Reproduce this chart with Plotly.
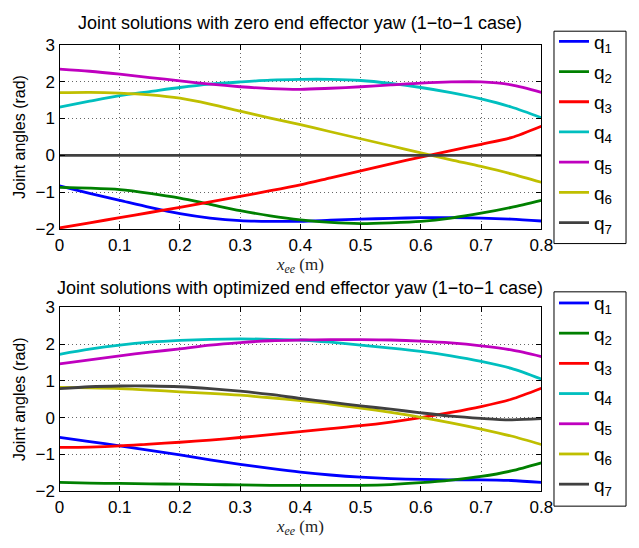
import plotly.graph_objects as go

# Sampled end-effector positions (m)
x_ee = [0.00, 0.05, 0.10, 0.15, 0.20, 0.25, 0.30, 0.35, 0.40,
        0.45, 0.50, 0.55, 0.60, 0.65, 0.70, 0.75, 0.80]

# Joint solutions, zero end effector yaw (rad)
q1_zero = [-0.83, -1.03, -1.22, -1.41, -1.58, -1.70, -1.77, -1.79, -1.79,
           -1.76, -1.73, -1.71, -1.69, -1.69, -1.70, -1.73, -1.78]
q2_zero = [-0.87, -0.89, -0.93, -1.03, -1.16, -1.33, -1.50, -1.64, -1.75,
           -1.82, -1.85, -1.83, -1.79, -1.70, -1.57, -1.41, -1.22]
q3_zero = [-1.97, -1.83, -1.69, -1.55, -1.41, -1.26, -1.11, -0.96, -0.80,
           -0.61, -0.42, -0.23, -0.05, 0.13, 0.30, 0.48, 0.79]
q4_zero = [1.31, 1.47, 1.62, 1.73, 1.84, 1.93, 1.99, 2.04, 2.06,
           2.06, 2.03, 1.95, 1.84, 1.70, 1.53, 1.31, 1.02]
q5_zero = [2.34, 2.28, 2.20, 2.11, 2.02, 1.93, 1.86, 1.81, 1.79,
           1.82, 1.86, 1.91, 1.96, 1.99, 1.99, 1.91, 1.71]
q6_zero = [1.70, 1.71, 1.69, 1.64, 1.55, 1.39, 1.20, 1.01, 0.83,
           0.64, 0.45, 0.26, 0.07, -0.12, -0.30, -0.50, -0.73]
q7_zero = [0.0] * len(x_ee)

# Joint solutions, optimized end effector yaw (rad)
q1_opt = [-0.54, -0.65, -0.77, -0.89, -1.01, -1.15, -1.27, -1.38, -1.48,
          -1.56, -1.62, -1.66, -1.68, -1.69, -1.69, -1.71, -1.76]
q2_opt = [-1.76, -1.78, -1.79, -1.80, -1.81, -1.82, -1.83, -1.84, -1.84,
          -1.84, -1.84, -1.82, -1.77, -1.70, -1.60, -1.45, -1.23]
q3_opt = [-0.81, -0.80, -0.77, -0.72, -0.67, -0.61, -0.54, -0.46, -0.38,
          -0.30, -0.22, -0.12, 0.00, 0.14, 0.30, 0.50, 0.80]
q4_opt = [1.72, 1.86, 1.97, 2.05, 2.10, 2.13, 2.14, 2.13, 2.11,
          2.05, 1.97, 1.89, 1.80, 1.68, 1.53, 1.34, 1.05]
q5_opt = [1.46, 1.57, 1.68, 1.78, 1.87, 1.97, 2.04, 2.09, 2.11,
          2.12, 2.12, 2.11, 2.08, 2.03, 1.95, 1.84, 1.66]
q6_opt = [0.82, 0.81, 0.79, 0.75, 0.70, 0.66, 0.61, 0.54, 0.46,
          0.37, 0.26, 0.14, 0.01, -0.14, -0.31, -0.50, -0.73]
q7_opt = [0.79, 0.84, 0.86, 0.86, 0.84, 0.79, 0.72, 0.63, 0.52,
          0.42, 0.32, 0.23, 0.13, 0.04, -0.02, -0.06, -0.03]

joint_names = ["q<sub>1</sub>", "q<sub>2</sub>", "q<sub>3</sub>", "q<sub>4</sub>",
               "q<sub>5</sub>", "q<sub>6</sub>", "q<sub>7</sub>"]
colors = ["#0000ff", "#008000", "#ff0000", "#00bfbf", "#bf00bf", "#bfbf00", "#404040"]

zero_set = [q1_zero, q2_zero, q3_zero, q4_zero, q5_zero, q6_zero, q7_zero]
opt_set = [q1_opt, q2_opt, q3_opt, q4_opt, q5_opt, q6_opt, q7_opt]

x_ticks = [0, 0.1, 0.2, 0.3, 0.4, 0.5, 0.6, 0.7, 0.8]
y_ticks = [-2, -1, 0, 1, 2, 3]
tick_text_y = ["\u22122", "\u22121", "0", "1", "2", "3"]

W, H = 639, 548
FONT = "Liberation Sans, Arial, sans-serif"

fig = go.Figure()

for k, (ys, name, col) in enumerate(zip(zero_set, joint_names, colors)):
    fig.add_trace(go.Scatter(
        x=x_ee, y=ys, mode="lines", name=name,
        line=dict(color=col, width=2.8, shape="spline", smoothing=0.8),
        xaxis="x", yaxis="y", legend="legend", legendgroup="a%d" % k,
    ))
for k, (ys, name, col) in enumerate(zip(opt_set, joint_names, colors)):
    fig.add_trace(go.Scatter(
        x=x_ee, y=ys, mode="lines", name=name,
        line=dict(color=col, width=2.8, shape="spline", smoothing=0.8),
        xaxis="x2", yaxis="y2", legend="legend2", legendgroup="b%d" % k,
    ))

# Plot areas in pixel terms
x0, x1 = 56, 551
top_y0, top_y1 = 37, 228
bot_y0, bot_y1 = 309, 499.5

# Legend frames in pixel terms (left, top, right, bottom)
frame_top = (564, 23, 638, 243)
frame_bot = (564, 293, 638, 515)


def px_dom(a, b):
    return [a / W, b / W]


def py_dom(top, bottom):
    return [1 - bottom / H, 1 - top / H]


def frame_shape(box):
    left, top, right, bottom = box
    return dict(type="rect", xref="paper", yref="paper",
                x0=left / W, x1=right / W, y0=1 - bottom / H, y1=1 - top / H,
                line=dict(color="black", width=1), fillcolor="rgba(0,0,0,0)",
                layer="above")


axis_common = dict(
    showline=True, linecolor="black", linewidth=1.2, mirror="allticks",
    ticks="inside", ticklen=5, tickcolor="black",
    showgrid=True, gridcolor="#666666", griddash="1px,3px", gridwidth=1,
    zeroline=False, tickfont=dict(family=FONT, size=17, color="black"),
)

xtitle = dict(
    text="<i>x</i><sub><i>ee</i></sub> (m)",
    font=dict(family="Liberation Serif, DejaVu Serif, serif", size=17, color="#222"),
    standoff=3,
)
ytitle = dict(text="Joint angles (rad)", font=dict(family=FONT, size=16, color="black"),
              standoff=6)

legend_common = dict(
    xanchor="left", yanchor="top",
    borderwidth=0, bgcolor="rgba(0,0,0,0)",
    font=dict(family=FONT, size=19, color="black"),
    tracegroupgap=2.5, itemwidth=30,
)

fig.update_layout(
    width=W, height=H,
    margin=dict(l=0, r=0, t=0, b=0),
    paper_bgcolor="white", plot_bgcolor="white",
    font=dict(family=FONT, color="black"),
    xaxis=dict(domain=px_dom(x0, x1), range=[0, 0.8], tickvals=x_ticks,
               anchor="y", title=xtitle, **axis_common),
    yaxis=dict(domain=py_dom(top_y0, top_y1), range=[-2, 3], tickvals=y_ticks,
               ticktext=tick_text_y, anchor="x", title=ytitle, **axis_common),
    xaxis2=dict(domain=px_dom(x0, x1), range=[0, 0.8], tickvals=x_ticks,
                anchor="y2", title=xtitle, **axis_common),
    yaxis2=dict(domain=py_dom(bot_y0, bot_y1), range=[-2, 3], tickvals=y_ticks,
                ticktext=tick_text_y, anchor="x2", title=ytitle, **axis_common),
    legend=dict(x=564 / W, y=1 - 14 / H, **legend_common),
    legend2=dict(x=564 / W, y=1 - 285 / H, **legend_common),
    shapes=[frame_shape(frame_top), frame_shape(frame_bot)],
    annotations=[
        dict(text="Joint solutions with zero end effector yaw (1\u2212to\u22121 case)",
             x=(x0 + x1) / 2 / W, y=1 - 15 / H, xref="paper", yref="paper",
             xanchor="center", yanchor="middle", showarrow=False,
             font=dict(family=FONT, size=18, color="black")),
        dict(text="Joint solutions with optimized end effector yaw (1\u2212to\u22121 case)",
             x=(x0 + x1) / 2 / W, y=1 - 289 / H, xref="paper", yref="paper",
             xanchor="center", yanchor="middle", showarrow=False,
             font=dict(family=FONT, size=18, color="black")),
    ],
)

fig.write_html("out.html")
